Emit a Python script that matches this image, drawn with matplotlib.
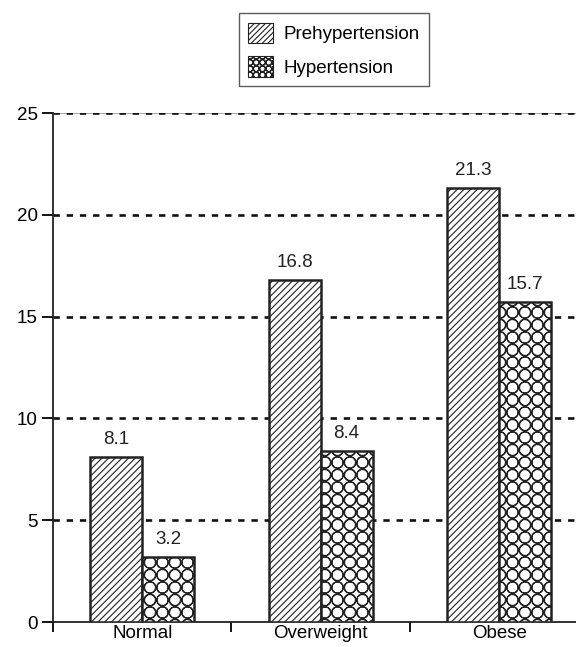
import matplotlib.pyplot as plt
import matplotlib as mpl
import numpy as np
from matplotlib import hatch as mhatch
from matplotlib.path import Path
from matplotlib.patches import Patch

categories = ["Normal", "Overweight", "Obese"]
prehyp = [8.1, 16.8, 21.3]
hyper = [3.2, 8.4, 15.7]
series_names = ["Prehypertension", "Hypertension"]


# square grid of touching rings for the 'O' hatch (default one is staggered)
class GridCircles(mhatch.HatchPatternBase):
    def __init__(self, hatch, density):
        self.n = hatch.count('O') * 8
        circ = Path.unit_circle()
        self.cv = np.concatenate([circ.vertices, circ.vertices[::-1] * 0.92])
        self.cc = np.concatenate([circ.codes, circ.codes])
        self.num_vertices = (self.n + 1) ** 2 * len(self.cv) if self.n else 0

    def set_vertices_and_codes(self, vertices, codes):
        n = self.n
        k = len(self.cv)
        r = 0.47 / n
        i = 0
        for row in range(n + 1):
            for col in range(n + 1):
                vertices[i:i + k] = self.cv * r + [col / n, row / n]
                codes[i:i + k] = self.cc
                i += k


mhatch._hatch_types = [t for t in mhatch._hatch_types
                       if t is not mhatch.LargeCircles] + [GridCircles]

mpl.rcParams['font.family'] = ['Liberation Sans', 'DejaVu Sans']
mpl.rcParams['hatch.linewidth'] = 0.8

fig = plt.figure(figsize=(5.76, 6.47), dpi=100)
ax = fig.add_axes([0.092, 0.0386, 0.908, 0.7867])

x = np.arange(len(categories))
w = 0.29
b1 = ax.bar(x - w / 2, prehyp, w, facecolor='white', edgecolor='#222222',
            hatch='/////', linewidth=1.8, zorder=3)
b2 = ax.bar(x + w / 2, hyper, w, facecolor='white', edgecolor='#222222',
            hatch='O', linewidth=1.8, zorder=3)

for bars, vals in [(b1, prehyp), (b2, hyper)]:
    for r, v in zip(bars, vals):
        ax.text(r.get_x() + r.get_width() / 2, v + 0.45, f"{v}",
                ha='center', va='bottom', fontsize=13.5, color='#222222')

# dotted grid
for yv in [5, 10, 15, 20, 25]:
    ax.axhline(yv, color='#111111', linestyle=(0, (2.4, 2.6)), linewidth=1.9, zorder=1)
ax.axhline(25, color='#9aa0a6', linewidth=1.2, zorder=0)

ax.set_ylim(0, 25)
ax.set_xlim(-0.5, 2.43)
ax.set_yticks([0, 5, 10, 15, 20, 25])
ax.set_xticks([-0.5, 0.5, 1.5])
ax.set_xticklabels([])
ax.set_xticks(x, minor=True)
ax.set_xticklabels(categories, minor=True, fontsize=13.5)
ax.tick_params(axis='x', which='minor', length=0, pad=2)
ax.tick_params(axis='x', which='major', length=7, width=1.3, direction='out')
ax.tick_params(axis='y', length=8, width=1.3, labelsize=13.5, pad=3)

for s in ['top', 'right']:
    ax.spines[s].set_visible(False)
for s in ['left', 'bottom']:
    ax.spines[s].set_linewidth(1.3)
    ax.spines[s].set_color('#222222')

handles = [Patch(facecolor='white', edgecolor='#222222', hatch='//////', linewidth=0.8),
           Patch(facecolor='white', edgecolor='#222222', hatch='OO', linewidth=0.8)]
leg = fig.legend(handles, series_names, loc='center', bbox_to_anchor=(0.58, 0.923),
                 fontsize=13.5, frameon=True, fancybox=False, edgecolor='#333333',
                 handlelength=1.3, handleheight=1.3, labelspacing=0.7, borderpad=0.5,
                 handletextpad=0.6, borderaxespad=0)
leg.get_frame().set_linewidth(1.0)

fig.savefig("out.png", dpi=100)
